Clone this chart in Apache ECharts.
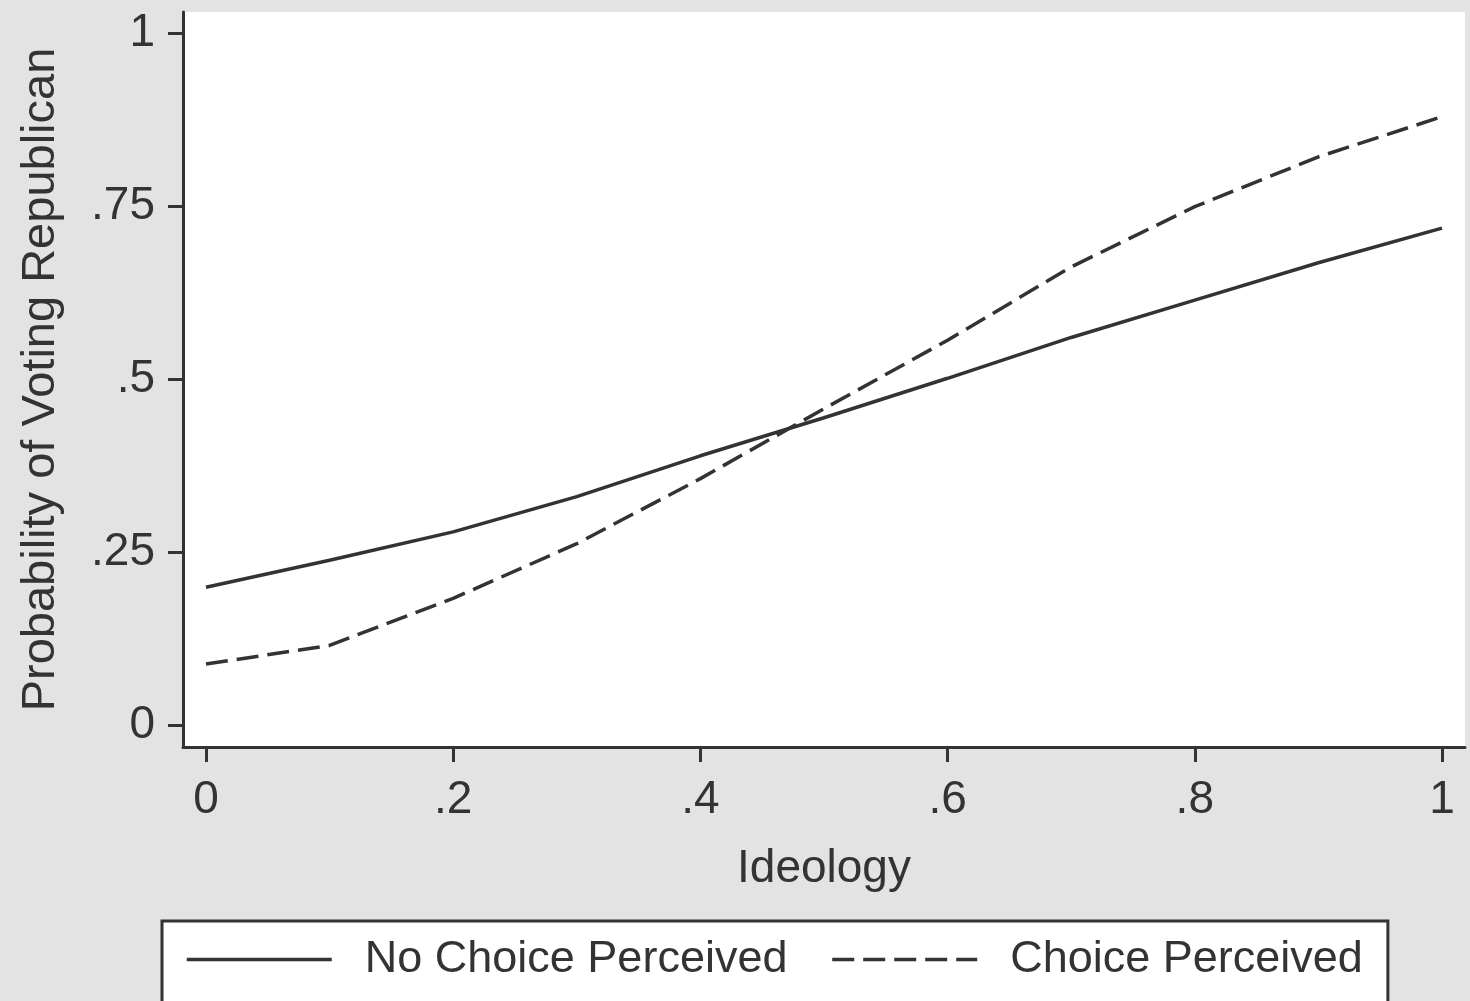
<!DOCTYPE html>
<html>
<head>
<meta charset="utf-8">
<script src="https://cdn.jsdelivr.net/npm/echarts@6/dist/echarts.min.js"></script>
<style>
html,body{margin:0;padding:0;background:#e3e3e3;}
#chart{width:1470px;height:1001px;}
</style>
</head>
<body>
<div id="chart"></div>
<script>
// Data
const ideology = [0, 0.1, 0.2, 0.3, 0.4, 0.5, 0.6, 0.7, 0.8, 0.9, 1.0];
const noChoice = [0.199, 0.238, 0.279, 0.330, 0.389, 0.444, 0.501, 0.560, 0.614, 0.668, 0.718];
const choice   = [0.088, 0.115, 0.183, 0.262, 0.356, 0.457, 0.556, 0.662, 0.749, 0.821, 0.879];
const seriesNames = ['No Choice Perceived', 'Choice Perceived'];
const xTicks = [0, 0.2, 0.4, 0.6, 0.8, 1];
const xTickLabels = ['0', '.2', '.4', '.6', '.8', '1'];
const yTicks = [0, 0.25, 0.5, 0.75, 1];
const yTickLabels = ['0', '.25', '.5', '.75', '1'];
const xTitle = 'Ideology';
const yTitle = 'Probability of Voting Republican';

const FONT = '"Liberation Sans", Arial, sans-serif';
const INK = '#333333';

function lookup(ticks, labels) {
  return function (v) {
    for (let i = 0; i < ticks.length; i++) {
      if (Math.abs(ticks[i] - v) < 1e-9) return labels[i];
    }
    return '';
  };
}

const chart = echarts.init(document.getElementById('chart'), null, {renderer: 'canvas'});
chart.setOption({
  backgroundColor: '#e3e3e3',
  animation: false,
  grid: {
    left: 183, right: 5, top: 12, bottom: 254,
    outerBoundsMode: 'none',
    containLabel: false,
    show: true, backgroundColor: '#ffffff', borderWidth: 0
  },
  xAxis: {
    type: 'value',
    min: -0.0186, max: 1.0186,
    name: xTitle, nameLocation: 'middle', nameGap: 99,
    nameTextStyle: {fontFamily: FONT, fontSize: 46, color: INK},
    axisLine: {show: true, onZero: false, lineStyle: {color: INK, width: 3}},
    axisTick: {show: true, customValues: xTicks, length: 15, lineStyle: {color: INK, width: 3}},
    axisLabel: {customValues: xTicks, formatter: lookup(xTicks, xTickLabels), margin: 30,
      fontFamily: FONT, fontSize: 46, color: INK},
    splitLine: {show: false}
  },
  yAxis: {
    type: 'value',
    min: -0.0318, max: 1.0303,
    name: yTitle, nameLocation: 'middle', nameGap: 118,
    nameTextStyle: {fontFamily: FONT, fontSize: 47, color: INK},
    axisLine: {show: true, onZero: false, lineStyle: {color: INK, width: 3}},
    axisTick: {show: true, customValues: yTicks, length: 15, lineStyle: {color: INK, width: 3}},
    axisLabel: {customValues: yTicks, formatter: lookup(yTicks, yTickLabels), margin: 28,
      fontFamily: FONT, fontSize: 46, color: INK},
    splitLine: {show: false}
  },
  legend: {
    left: 162, top: 921, width: 1290,
    orient: 'horizontal',
    backgroundColor: '#ffffff',
    borderColor: INK, borderWidth: 3, borderRadius: 0,
    padding: [16, 25, 40, 23],
    itemWidth: 145, itemHeight: 20, itemGap: 43,
    itemStyle: {opacity: 0},
    lineStyle: {width: 3.5},
    textStyle: {fontFamily: FONT, fontSize: 45, color: INK, padding: [0, 0, 0, 28]},
    data: seriesNames
  },
  series: [
    {
      name: seriesNames[0], type: 'line', showSymbol: false, symbol: 'none', smooth: false,
      data: ideology.map((x, i) => [x, noChoice[i]]),
      lineStyle: {color: INK, width: 3.5, type: 'solid'},
      itemStyle: {color: INK}
    },
    {
      name: seriesNames[1], type: 'line', showSymbol: false, symbol: 'none', smooth: false,
      data: ideology.map((x, i) => [x, choice[i]]),
      lineStyle: {color: INK, width: 3.5, type: [22, 9]},
      itemStyle: {color: INK}
    }
  ]
});
</script>
</body>
</html>
